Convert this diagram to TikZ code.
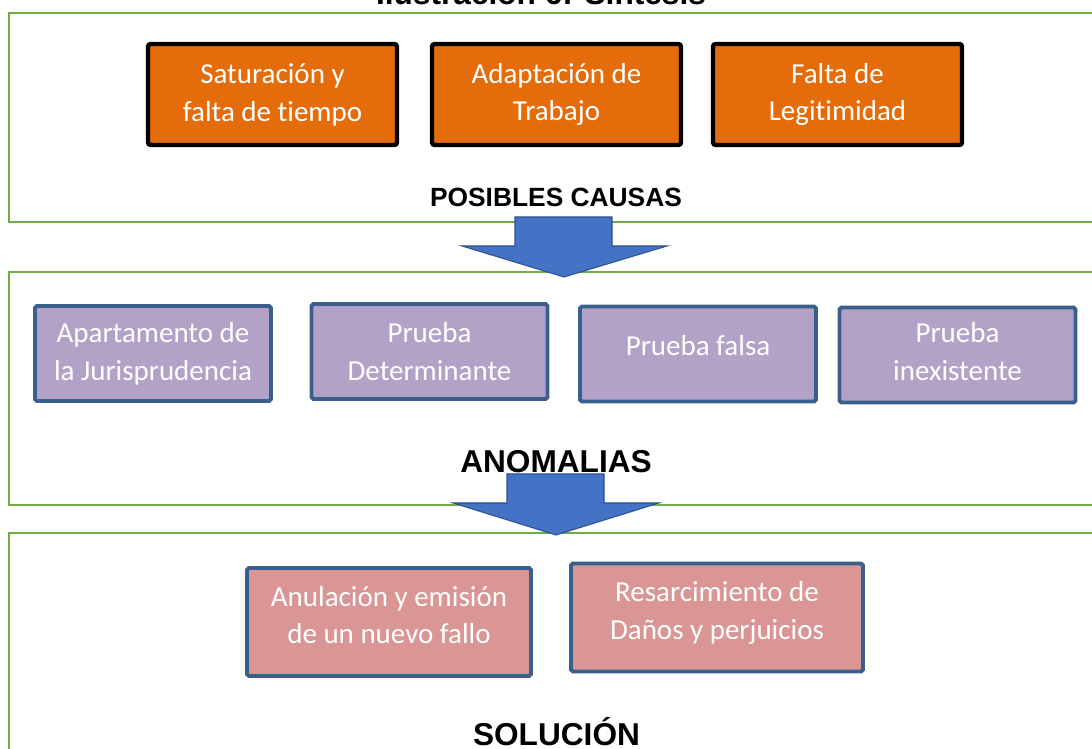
\documentclass[tikz,border=0pt]{standalone}
\usepackage{fontspec}
\setmainfont{Carlito}[Ligatures=NoCommon]
\newfontfamily\headfont{Liberation Sans}

\definecolor{frameGreen}{HTML}{70AD47}
\definecolor{causeOrange}{HTML}{E46C0A}
\definecolor{anomPurple}{HTML}{B3A2C7}
\definecolor{solPink}{HTML}{D99694}
\definecolor{boxBlue}{HTML}{3A5F8B}
\definecolor{arrowBlue}{HTML}{4472C4}
\definecolor{arrowEdge}{HTML}{2F528F}

\tikzset{
	greenframe/.style={draw=frameGreen, line width=1.5pt},
	boxtext/.style={text=white, align=center, font=\fontsize{16.5}{21.5}\selectfont},
	cause/.style={boxtext, draw=black, line width=2.5pt, fill=causeOrange, rounded corners=1.5pt, minimum width=4.98cm, minimum height=2.02cm},
	anomaly/.style={boxtext, draw=boxBlue, line width=2.2pt, fill=anomPurple, rounded corners=1pt, minimum width=4.72cm, minimum height=1.9cm},
	solution/.style={boxtext, draw=boxBlue, line width=2.2pt, fill=solPink, rounded corners=1pt, minimum height=2.16cm},
	heading/.style={anchor=base, font=\headfont\bfseries\fontsize{15}{18}\selectfont},
	bigheading/.style={heading, font=\headfont\bfseries\fontsize{18}{21}\selectfont},
	bigarrow/.style={fill=arrowBlue, draw=arrowEdge, line width=0.6pt, line join=miter}
}

\begin{document}
\begin{tikzpicture}[x=0.02cm, y=-0.02cm]
\useasboundingbox (0,0) rectangle (1092,749);
\clip (0,0) rectangle (1092,749);

\node[bigheading] (title) at (541,5) {Ilustración 6: Síntesis};

\draw[greenframe] (1100,13) -- (9,13) -- (9,222) -- (1100,222);
\draw[greenframe] (1100,272) -- (9,272) -- (9,505) -- (1100,505);
\draw[greenframe] (1100,533) -- (9,533) -- (9,760);

\node[cause] (saturacion) at (272.5,94.5) {Saturación y\\falta de tiempo};
\node[cause] (adaptacion) at (556.5,94.5) {Adaptación de\\Trabajo};
\node[cause] (legitimidad) at (837.5,94.5) {Falta de\\Legitimidad};
\node[heading] (causas) at (556,207) {POSIBLES CAUSAS};

\node[anomaly] (apartamiento) at (153,353.5) {Apartamento de\\la Jurisprudencia};
\node[anomaly] (determinante) at (429.5,351.5) {Prueba\\Determinante};
\node[anomaly] (falsa) at (698,354) {Prueba falsa\\[-11.5pt]};
\node[anomaly] (inexistente) at (957.5,355) {Prueba\\inexistente\\[-17.5pt]};
\node[bigheading] (anomalias) at (556,473) {ANOMALIAS};

\node[solution, minimum width=5.68cm] (anulacion) at (389,622) {Anulación y emisión\\de un nuevo fallo\\[-13.5pt]};
\node[solution, minimum width=5.84cm] (resarcimiento) at (717,617.5) {Resarcimiento de\\Daños y perjuicios\\[-13.5pt]};
\node[bigheading] (solucion) at (556.5,745) {SOLUCIÓN};

\draw[bigarrow] (515,217) -- (612,217) -- (612,246) -- (667,246) -- (564,277) -- (462,246) -- (515,246) -- cycle;
\draw[bigarrow] (507,474) -- (604,474) -- (604,503) -- (659,503) -- (556,535) -- (453,503) -- (507,503) -- cycle;
\end{tikzpicture}
\end{document}
